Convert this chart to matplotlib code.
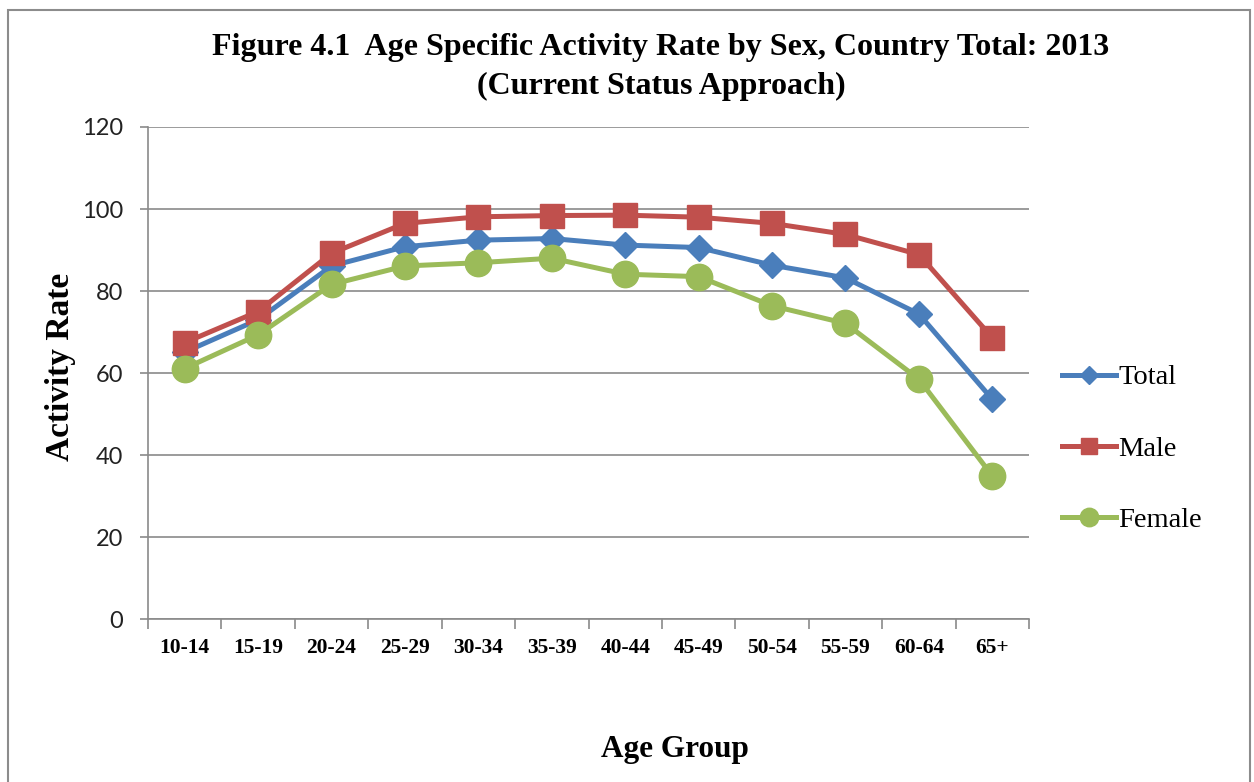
import matplotlib
matplotlib.use("Agg")
import matplotlib.pyplot as plt
from matplotlib.patches import Rectangle

age_groups = ["10-14", "15-19", "20-24", "25-29", "30-34", "35-39",
              "40-44", "45-49", "50-54", "55-59", "60-64", "65+"]
total = [65.1, 73.0, 86.1, 90.8, 92.4, 92.8, 91.2, 90.6, 86.3, 83.2, 74.4, 53.6]
male = [67.4, 75.0, 89.2, 96.5, 98.1, 98.4, 98.5, 98.0, 96.5, 93.8, 88.9, 68.6]
female = [61.1, 69.3, 81.6, 86.1, 86.9, 88.0, 84.1, 83.5, 76.4, 72.1, 58.5, 34.9]
y_ticks = [0, 20, 40, 60, 80, 100, 120]

serif = "Liberation Serif"
sans = "Lato"

fig = plt.figure(figsize=(12.54, 7.82), dpi=100)
ax = fig.add_axes([0.118, 0.2084, 0.7026, 0.6292])

# chart border
fig.patches.append(Rectangle((8 / 1254, -0.1), (1250 - 8) / 1254, 1 - 10 / 782 + 0.1,
                             transform=fig.transFigure, fill=False,
                             edgecolor="#8c8c8c", linewidth=1.5))

x = list(range(len(age_groups)))
ax.plot(x, total, color="#4A7EBB", lw=3.6, marker="D", ms=13, mec="#4A7EBB", label="Total", zorder=3)
ax.plot(x, male, color="#C0504D", lw=3.6, marker="s", ms=17, mec="#C0504D", label="Male", zorder=3)
ax.plot(x, female, color="#9BBB59", lw=3.6, marker="o", ms=19, mec="#9BBB59", label="Female", zorder=3)

ax.set_xlim(-0.5, len(age_groups) - 0.5)
ax.set_ylim(0, 120)
ax.set_yticks(y_ticks)
ax.set_yticklabels([str(v) for v in y_ticks], fontsize=17, family=sans, color="#222222")
ax.yaxis.grid(True, color="#8a8a8a", lw=1.2)
ax.set_axisbelow(True)

ax.set_xticks(x)
ax.set_xticklabels(age_groups, fontsize=15.5, family=serif, fontweight="bold")
ax.set_xticks([i - 0.5 for i in range(len(age_groups) + 1)], minor=True)
ax.tick_params(axis="x", which="major", length=0, pad=14)
ax.tick_params(axis="x", which="minor", length=7, color="#8a8a8a", width=1.2, direction="out")
ax.tick_params(axis="y", length=6, color="#8a8a8a", width=1.2, direction="out", pad=12)

for s in ["top", "right"]:
    ax.spines[s].set_visible(False)
for s in ["left", "bottom"]:
    ax.spines[s].set_color("#8a8a8a")
    ax.spines[s].set_linewidth(1.2)

fig.text(61 / 1254, 1 - 367 / 782, "Activity Rate", ha="center", va="center", rotation=90,
         fontsize=24, family=serif, fontweight="bold")
fig.text(675 / 1254, 1 - 750 / 782, "Age Group", ha="center", va="center",
         fontsize=22.5, family=serif, fontweight="bold")

fig.text(661 / 1254, 1 - 47 / 782, "Figure 4.1  Age Specific Activity Rate by Sex, Country Total: 2013",
         ha="center", va="center", fontsize=23, family=serif, fontweight="bold")
fig.text(661 / 1254, 1 - 86 / 782, "(Current Status Approach)",
         ha="center", va="center", fontsize=23, family=serif, fontweight="bold")

leg = fig.legend(loc="center left", bbox_to_anchor=(1036 / 1254, 1 - 449 / 782),
                 frameon=False, prop={"family": serif, "size": 20.5},
                 handlelength=1.9, handletextpad=0.1, labelspacing=1.6, markerscale=0.7)

fig.savefig("out.png", dpi=100)
